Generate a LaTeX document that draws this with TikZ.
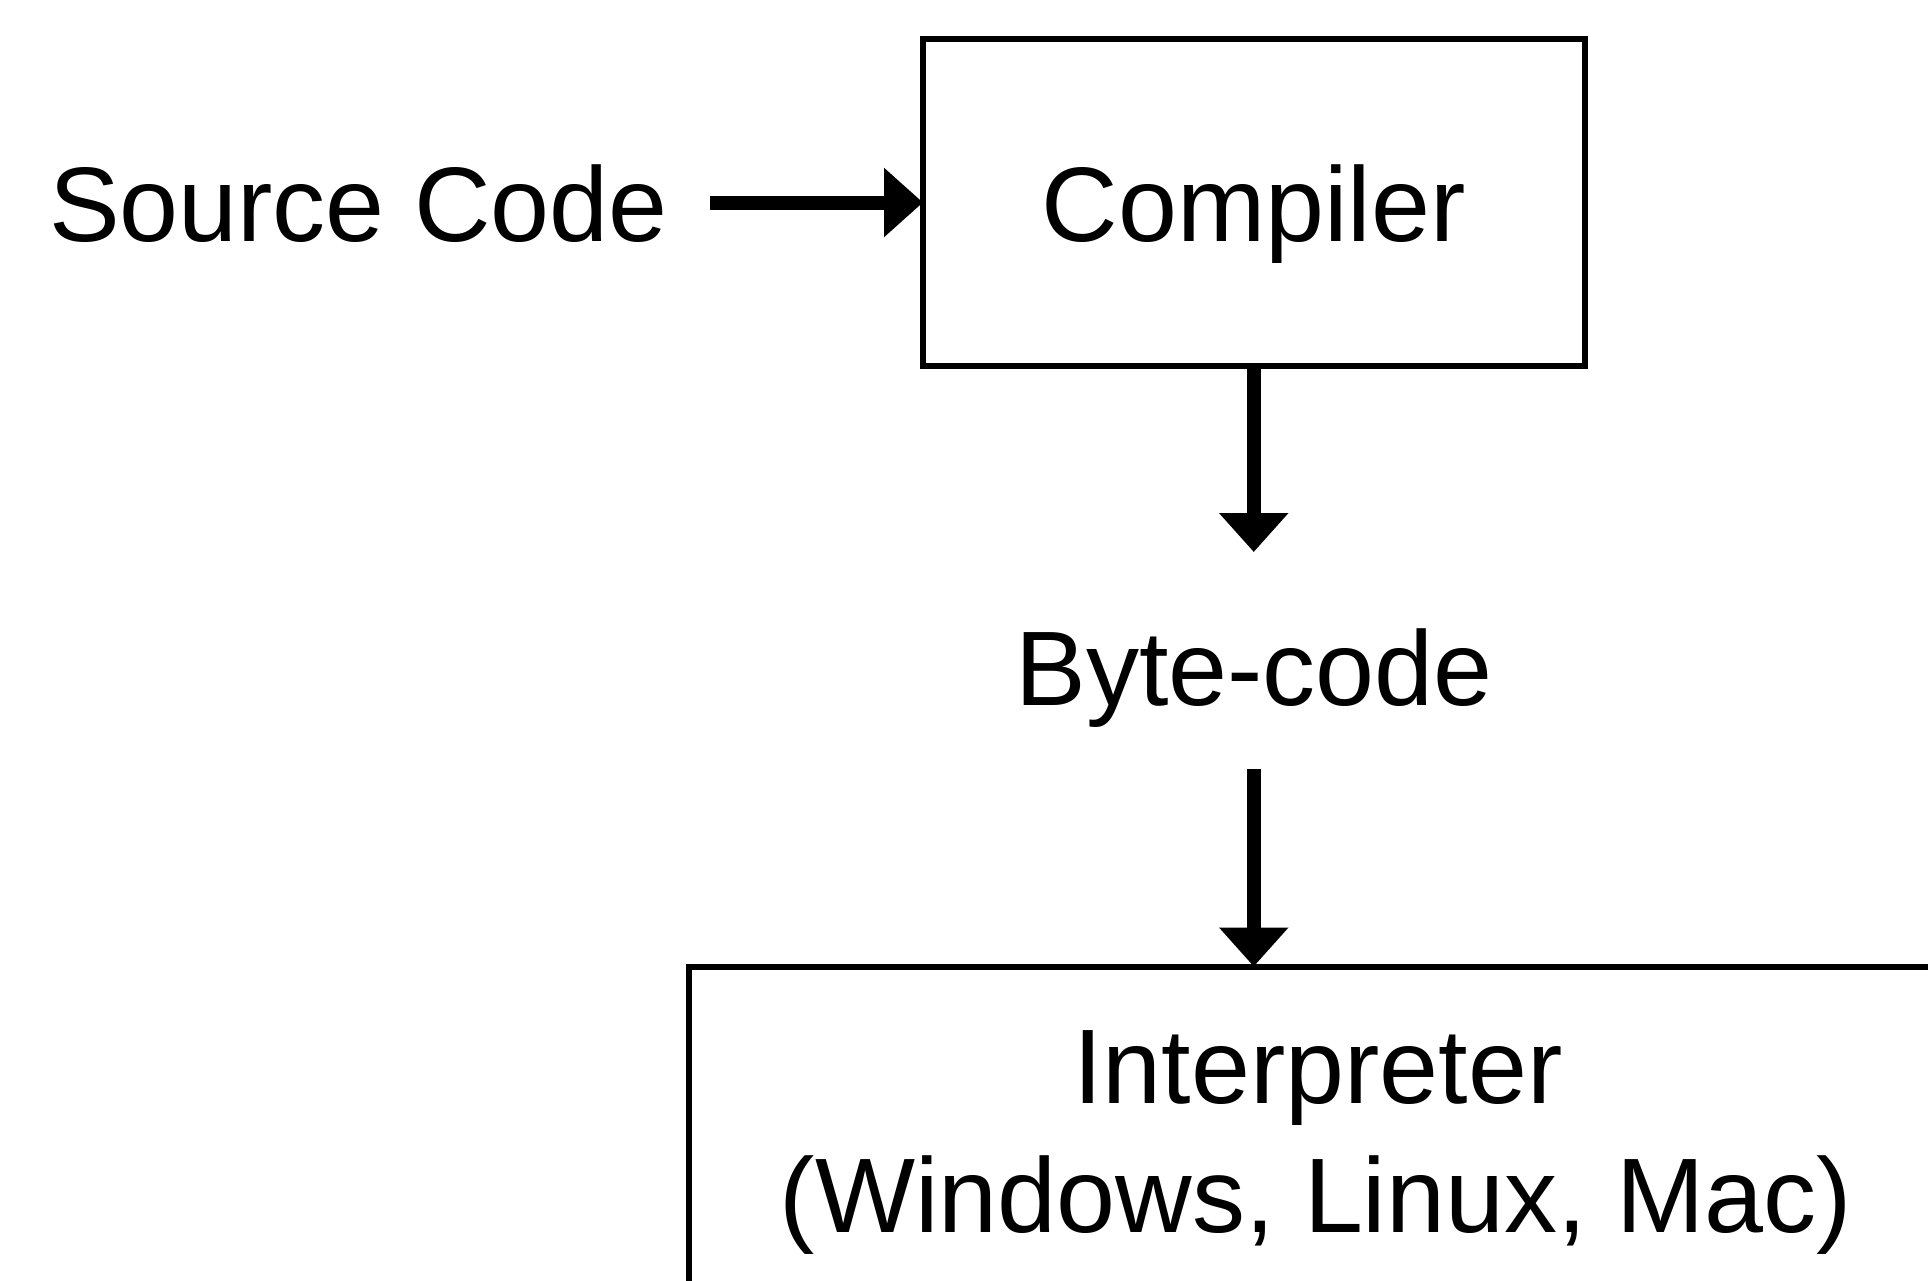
\documentclass[tikz,border=0pt]{standalone}
\usepackage{fontspec}
\setmainfont{Liberation Sans}
\usetikzlibrary{arrows.meta}
\begin{document}
\begin{tikzpicture}[x=1pt,y=-1pt,
  box/.style={draw, line width=6pt, rectangle, inner sep=0pt, outer sep=0pt},
  lbl/.style={font=\fontsize{106}{129}\selectfont, inner sep=0pt, outer sep=0pt},
  flow/.style={line width=14pt, -{Triangle[length=39pt,width=67pt]}},
]
\useasboundingbox (0,0) rectangle (1928,1280);
\clip (0,0) rectangle (1928,1280);
\node[lbl, anchor=base west] (src) at (49,241) {Source Code};
\node[box, lbl, minimum width=661.5pt, minimum height=327pt, text height=77pt, text depth=0pt] (comp) at (1253.75,202.5) {Compiler};
\node[lbl, anchor=base, text height=80pt, text depth=25pt] (bc) at (1254,705) {Byte-code};
\node[box, anchor=north west, minimum width=1400pt, minimum height=500pt] (interp) at (689,966.5) {};
\node[lbl, anchor=base] (iline1) at (1318,1103) {Interpreter};
\node[lbl, anchor=base] (iline2) at (1316,1232) {(Windows, Linux, Mac)};
\draw[flow] ([xshift=42pt]src.east |- comp.west) -- (comp.west);
\draw[flow] (comp.south) -- ([yshift=73pt]bc.north -| comp.south);
\draw[flow] ([yshift=-39pt]bc.south -| comp.south) -- (comp.south |- interp.north);
\end{tikzpicture}
\end{document}
